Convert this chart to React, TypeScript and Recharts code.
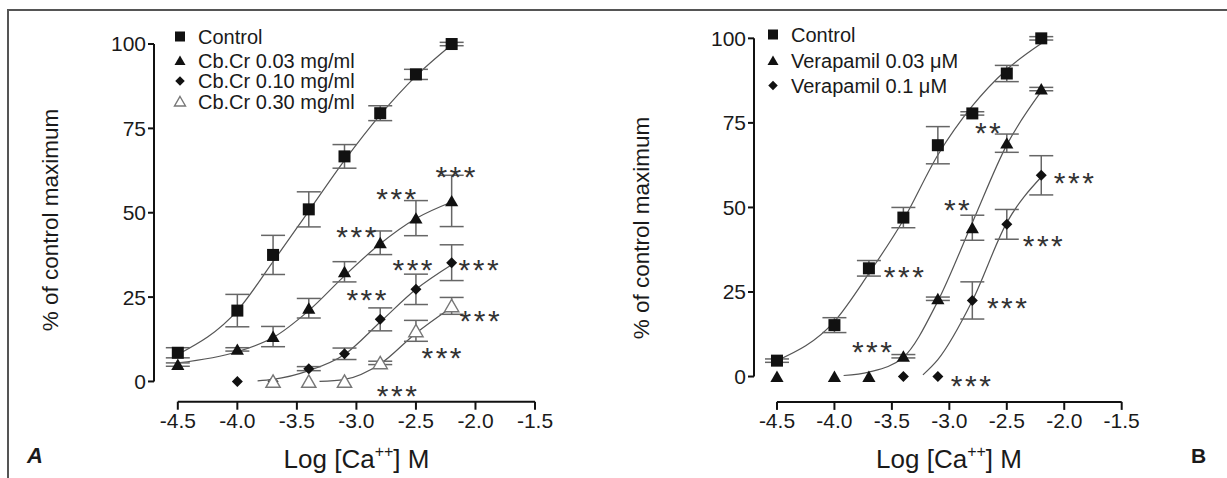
import React from 'react';
import { ComposedChart, ErrorBar, Line, ReferenceLine, Scatter, XAxis, YAxis } from 'recharts';

const FONT = '"Liberation Sans", Arial, Helvetica, sans-serif';
const INK = '#1a1a1a';

// log [Ca++] M, shared by both panels
const logCa = [-4.5, -4.0, -3.7, -3.4, -3.1, -2.8, -2.5, -2.2];
const xTicks = [-4.5, -4.0, -3.5, -3.0, -2.5, -2.0, -1.5];
const yTicks = [0, 25, 50, 75, 100];

// panel A (Cb.Cr) means and error
const aControl = [8.5, 21, 37.5, 51, 66.7, 79.5, 91, 100];
const aControlErr = [1.5, 4.8, 5.8, 5.2, 3.5, 2.2, 1.5, 0.5];
const aCb003 = [5, 9.5, 13.3, 21.7, 32.5, 41.1, 48.4, 53.5];
const aCb003Err = [0.5, 0.5, 3, 2.9, 3, 3.5, 5.2, 7.6];
const aCb010 = [null, 0, 0, 3.8, 8.2, 18.4, 27.3, 35.2];
const aCb010Err = [null, 0, 0, 0.6, 1.7, 3.4, 4.5, 5.3];
const aCb030 = [null, null, 0, 0, 0, 5.5, 15, 22.4];
const aCb030Err = [null, null, 0, 0, 0, 0.5, 3.1, 2.5];

// panel A fitted curves
const aFitControlX = [-4.5, -4.0, -3.7, -3.4, -3.1, -2.8, -2.5, -2.2];
const aFitControlY = [8, 21, 35.5, 50.5, 65.5, 79, 90.5, 99.8];
const aFitCb003X = [-4.5, -4.0, -3.7, -3.4, -3.1, -2.8, -2.5, -2.2];
const aFitCb003Y = [5.5, 8.8, 13, 21, 31.3, 40.8, 48.3, 53.2];
const aFitCb010X = [-3.83, -3.7, -3.4, -3.1, -2.8, -2.5, -2.2];
const aFitCb010Y = [0.2, 0.6, 3.2, 8, 17.6, 27.3, 34.6];
const aFitCb030X = [-3.31, -3.1, -2.8, -2.5, -2.2];
const aFitCb030Y = [0, 0.6, 5.2, 14.3, 22];

// panel A significance marks
const aStarX = [-2.158, -2.655, -2.99, -2.518, -1.963, -2.905, -1.955, -2.275, -2.65];
const aStarY = [62.6, 56.2, 45, 35.1, 35.1, 26.2, 20.1, 8.9, -2.3];
const aStarText = ['***', '***', '***', '***', '***', '***', '***', '***', '***'];

// panel B (verapamil)
const bControl = [4.7, 15.2, 32, 47, 68.4, 77.8, 89.6, 100];
const bControlErr = [0.5, 2.2, 2.3, 3, 5.5, 0.5, 2.4, 0.5];
const bVer003 = [0, 0, 0, 6, 23, 44, 69, 85];
const bVer003Err = [0, 0, 0, 0.5, 0.5, 3.7, 2.7, 0.5];
const bVer01 = [null, null, null, 0, 0, 22.5, 45, 59.5];
const bVer01Err = [null, null, null, 0, 0, 5.5, 4.4, 5.8];

const bFitControlX = [-4.5, -4.0, -3.7, -3.4, -3.1, -2.8, -2.5, -2.2];
const bFitControlY = [4.7, 16.3, 30.5, 46.3, 65.5, 80, 90.8, 98.5];
const bFitVer003X = [-3.92, -3.7, -3.4, -3.1, -2.8, -2.5, -2.2];
const bFitVer003Y = [0.3, 1.3, 5.7, 22.3, 45.5, 68.5, 84.3];
const bFitVer01X = [-3.23, -3.1, -2.8, -2.5, -2.2];
const bFitVer01Y = [0.5, 5, 22.4, 45.5, 59];

const bStarX = [-2.654, -2.924, -1.906, -2.176, -3.385, -2.488, -3.663, -2.802];
const bStarY = [74.2, 51.4, 59.3, 40.6, 31.5, 22.4, 9.3, -0.7];
const bStarText = ['**', '**', '***', '***', '***', '***', '***', '***'];

const aLegend = ['Control', 'Cb.Cr 0.03 mg/ml', 'Cb.Cr 0.10 mg/ml', 'Cb.Cr 0.30 mg/ml'];
const bLegend = ['Control', 'Verapamil 0.03 \u03bcM', 'Verapamil 0.1 \u03bcM'];

type Kind = 'square' | 'triangle' | 'diamond' | 'openTriangle';

function points(ys: (number | null)[], errs: (number | null)[]) {
  const out: { x: number; y: number; err: number }[] = [];
  logCa.forEach((x, i) => {
    const y = ys[i];
    if (y != null) out.push({ x, y, err: errs[i] ?? 0 });
  });
  return out;
}

function curve(xs: number[], ys: number[]) {
  return xs.map((x, i) => ({ x, y: ys[i] }));
}

function stars(xs: number[], ys: number[], txt: string[]) {
  return xs.map((x, i) => ({ x, y: ys[i], text: txt[i] }));
}

function Marker({ kind, cx, cy, s }: { kind: Kind; cx: number; cy: number; s: number }) {
  if (kind === 'square') {
    return <rect x={cx - s / 2} y={cy - s / 2} width={s} height={s} fill="#111" />;
  }
  if (kind === 'diamond') {
    const r = s * 0.5;
    return <polygon points={`${cx},${cy - r} ${cx + r},${cy} ${cx},${cy + r} ${cx - r},${cy}`} fill="#111" />;
  }
  const pts = `${cx},${cy - s * 0.5} ${cx + s * 0.55},${cy + s * 0.45} ${cx - s * 0.55},${cy + s * 0.45}`;
  if (kind === 'openTriangle') {
    return <polygon points={pts} fill="#fff" stroke="#777" strokeWidth={1.4} />;
  }
  return <polygon points={pts} fill="#111" />;
}

const markerShape = (kind: Kind, s: number) => (p: any) => <Marker kind={kind} cx={p.cx} cy={p.cy} s={s} />;

// asterisks: glyph sits high in the em box, so push the baseline down
const starShape = (p: any) => (
  <text
    x={p.cx}
    y={p.cy + 17}
    textAnchor="middle"
    fontSize={30}
    letterSpacing={2.5}
    fontFamily={FONT}
    fill="#333"
  >
    {p.payload.text}
  </text>
);

interface Series {
  kind: Kind;
  data: { x: number; y: number; err: number }[];
  fit: { x: number; y: number }[];
}

interface PanelProps {
  left: number;
  width: number;
  margin: { top: number; right: number; bottom: number; left: number };
  yMin: number;
  series: Series[];
  marks: { x: number; y: number; text: string }[];
}

function Panel({ left, width, margin, yMin, series, marks }: PanelProps) {
  const tick = { fontSize: 21, fill: INK, fontFamily: FONT };
  return (
    <div style={{ position: 'absolute', left, top: 0 }}>
      <ComposedChart width={width} height={478} margin={margin}>
        <XAxis
          type="number"
          dataKey="x"
          domain={[-4.7, -1.5]}
          ticks={xTicks}
          interval={0}
          tickFormatter={(v: number) => v.toFixed(1)}
          axisLine={false}
          tickLine={{ stroke: '#111', strokeWidth: 2 }}
          tickSize={8}
          tickMargin={3}
          height={30}
          tick={tick}
        />
        <YAxis
          type="number"
          dataKey="y"
          domain={[yMin, 103]}
          ticks={yTicks}
          interval={0}
          axisLine={false}
          tickLine={{ stroke: '#111', strokeWidth: 2 }}
          tickSize={6}
          tickMargin={2}
          width={60}
          tick={tick}
        />
        <ReferenceLine
          segment={[{ x: -4.7, y: 0 }, { x: -4.7, y: 100 }]}
          stroke="#111"
          strokeWidth={2}
          ifOverflow="visible"
        />
        <ReferenceLine
          segment={[{ x: -4.5, y: yMin }, { x: -1.5, y: yMin }]}
          stroke="#111"
          strokeWidth={2}
          ifOverflow="visible"
        />
        {series.map((s, i) => (
          <Line
            key={`fit${i}`}
            data={s.fit}
            dataKey="y"
            type="monotone"
            stroke="#555"
            strokeWidth={1.2}
            dot={false}
            activeDot={false}
            isAnimationActive={false}
          />
        ))}
        {series.map((s, i) => (
          <Scatter
            key={`pts${i}`}
            data={s.data}
            shape={markerShape(s.kind, s.kind === 'diamond' ? 11 : s.kind === 'openTriangle' ? 13 : 12)}
            isAnimationActive={false}
          >
            <ErrorBar dataKey="err" direction="y" width={12} stroke="#666" strokeWidth={1.5} />
          </Scatter>
        ))}
        <Scatter data={marks} shape={starShape} isAnimationActive={false} />
      </ComposedChart>
    </div>
  );
}

function LegendRows({ x, rows, kinds }: { x: number; rows: { label: string; y: number }[]; kinds: Kind[] }) {
  return (
    <g>
      {rows.map((r, i) => (
        <g key={r.label}>
          <Marker kind={kinds[i]} cx={x} cy={r.y} s={kinds[i] === 'diamond' ? 9.5 : 10} />
          <text x={x + 18} y={r.y + 7.2} fontSize={20} fontFamily={FONT} fill={INK}>
            {r.label}
          </text>
        </g>
      ))}
    </g>
  );
}

const aKinds: Kind[] = ['square', 'triangle', 'diamond', 'openTriangle'];
const bKinds: Kind[] = ['square', 'triangle', 'diamond'];
const aLegendY = [36.5, 60.5, 81, 101.5];
const bLegendY = [34.5, 60.5, 85.5];

function AxisTitle({ x }: { x: number }) {
  return (
    <text x={x} y={468} textAnchor="middle" fontSize={26} fontFamily={FONT} fill={INK}>
      Log [Ca<tspan dy={-11} fontSize={16}>++</tspan>
      <tspan dy={11}>] M</tspan>
    </text>
  );
}

export default function App() {
  const seriesA: Series[] = [
    { kind: 'square', data: points(aControl, aControlErr), fit: curve(aFitControlX, aFitControlY) },
    { kind: 'triangle', data: points(aCb003, aCb003Err), fit: curve(aFitCb003X, aFitCb003Y) },
    { kind: 'diamond', data: points(aCb010, aCb010Err), fit: curve(aFitCb010X, aFitCb010Y) },
    { kind: 'openTriangle', data: points(aCb030, aCb030Err), fit: curve(aFitCb030X, aFitCb030Y) },
  ];
  const seriesB: Series[] = [
    { kind: 'square', data: points(bControl, bControlErr), fit: curve(bFitControlX, bFitControlY) },
    { kind: 'triangle', data: points(bVer003, bVer003Err), fit: curve(bFitVer003X, bFitVer003Y) },
    { kind: 'diamond', data: points(bVer01, bVer01Err), fit: curve(bFitVer01X, bFitVer01Y) },
  ];

  return (
    <div style={{ position: 'absolute', left: 0, top: 0, width: 1227, height: 478, background: '#fff', overflow: 'hidden' }}>
      <div
        style={{
          position: 'absolute',
          left: 7,
          top: 9,
          right: 0,
          bottom: 0,
          borderTop: '2px solid #555',
          borderLeft: '2px solid #555',
        }}
      />
      <Panel
        left={0}
        width={614}
        margin={{ top: 33.9, right: 79, bottom: 46.3, left: 94 }}
        yMin={-6}
        series={seriesA}
        marks={stars(aStarX, aStarY, aStarText)}
      />
      <Panel
        left={614}
        width={613}
        margin={{ top: 28.2, right: 105.3, bottom: 46.1, left: 80 }}
        yMin={-7.5}
        series={seriesB}
        marks={stars(bStarX, bStarY, bStarText)}
      />
      <svg
        width={1227}
        height={478}
        style={{ position: 'absolute', left: 0, top: 0, pointerEvents: 'none' }}
      >
        <LegendRows x={180} rows={aLegend.map((label, i) => ({ label, y: aLegendY[i] }))} kinds={aKinds} />
        <LegendRows x={773} rows={bLegend.map((label, i) => ({ label, y: bLegendY[i] }))} kinds={bKinds} />

        <text
          transform="translate(50,220) rotate(-90)"
          textAnchor="middle"
          dominantBaseline="central"
          fontSize={22.5}
          fontFamily={FONT}
          fill={INK}
        >
          % of control maximum
        </text>
        <text
          transform="translate(641,228) rotate(-90)"
          textAnchor="middle"
          dominantBaseline="central"
          fontSize={22.5}
          fontFamily={FONT}
          fill={INK}
        >
          % of control maximum
        </text>

        <AxisTitle x={356.5} />
        <AxisTitle x={949} />

        <text x={27} y={463} fontSize={22} fontWeight="bold" fontStyle="italic" fontFamily={FONT} fill={INK}>
          A
        </text>
        <text x={1191} y={463} fontSize={21} fontWeight="bold" fontFamily={FONT} fill={INK}>
          B
        </text>
      </svg>
    </div>
  );
}
